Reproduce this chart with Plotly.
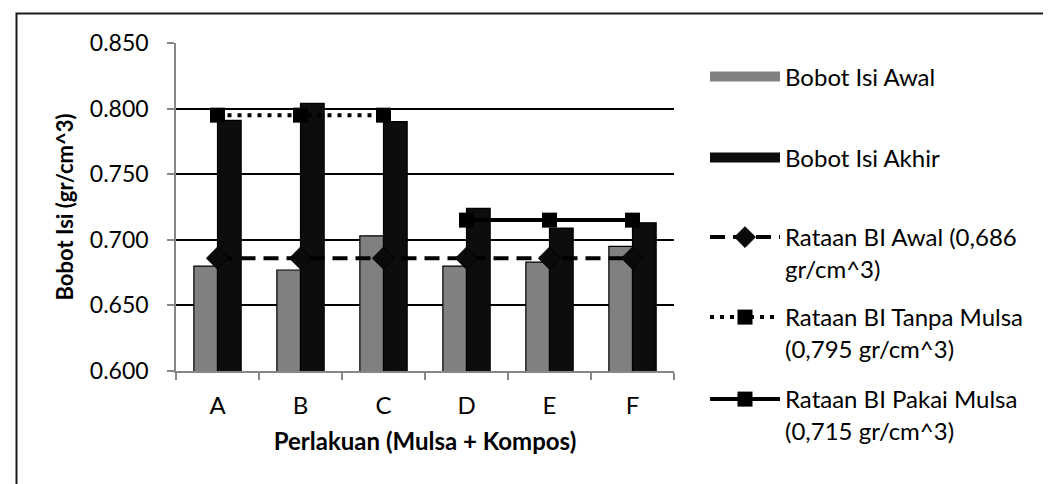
import plotly.graph_objects as go

categories = ["A", "B", "C", "D", "E", "F"]
bobot_awal = [0.680, 0.677, 0.703, 0.680, 0.683, 0.695]
bobot_akhir = [0.791, 0.804, 0.790, 0.724, 0.709, 0.713]
rataan_awal = [0.686, 0.686, 0.686, 0.686, 0.686, 0.686]
tanpa_cats = ["A", "B", "C"]
rataan_tanpa = [0.795, 0.795, 0.795]
pakai_cats = ["D", "E", "F"]
rataan_pakai = [0.715, 0.715, 0.715]

FONT = "Lato"
L, R, T, B = 168, 385, 35, 121
W, H = 1051, 484
PW, PH = W - L - R, H - T - B


def px_x(x):
    return (x - L) / PW


def px_y(y):
    return (H - B - y) / PH


fig = go.Figure()
fig.add_trace(go.Bar(
    x=categories, y=bobot_awal, name="Bobot Isi Awal",
    marker=dict(color="#808080", line=dict(color="#000000", width=1.2)),
    legendgroup="awal", showlegend=False,
))
fig.add_trace(go.Bar(
    x=categories, y=bobot_akhir, name="Bobot Isi Akhir",
    marker=dict(color="#0d0d0d", line=dict(color="#000000", width=1.2)),
    legendgroup="akhir", showlegend=False,
))
# legend proxies for the bar series (wide rectangular swatches)
fig.add_trace(go.Scatter(
    x=[None], y=[None], mode="lines", name="Bobot Isi Awal",
    line=dict(color="#808080", width=14), legendgroup="awal", legend="legend",
))
fig.add_trace(go.Scatter(
    x=[None], y=[None], mode="lines", name="Bobot Isi Akhir",
    line=dict(color="#0d0d0d", width=14), legendgroup="akhir", legend="legend2",
))
fig.add_trace(go.Scatter(
    x=categories, y=rataan_awal, name="Rataan BI Awal (0,686<br>gr/cm^3)",
    mode="lines+markers",
    line=dict(color="#000000", width=4, dash="15px,8px"),
    marker=dict(symbol="diamond", size=17, color="#0a0a0a", line=dict(color="#000000", width=1)),
    legend="legend3",
))
fig.add_trace(go.Scatter(
    x=tanpa_cats, y=rataan_tanpa, name="Rataan BI Tanpa Mulsa<br>(0,795 gr/cm^3)",
    mode="lines+markers",
    line=dict(color="#000000", width=4, dash="4px,6px"),
    marker=dict(symbol="square", size=15, color="#000000"),
    legend="legend4",
))
fig.add_trace(go.Scatter(
    x=pakai_cats, y=rataan_pakai, name="Rataan BI Pakai Mulsa<br>(0,715 gr/cm^3)",
    mode="lines+markers",
    line=dict(color="#000000", width=4),
    marker=dict(symbol="square", size=15, color="#000000"),
    legend="legend5",
))

leg_common = dict(
    xanchor="left", yanchor="middle", valign="top",
    font=dict(family=FONT, size=24, color="#000000"),
    bgcolor="rgba(0,0,0,0)", itemwidth=70, tracegroupgap=0,
    itemclick="toggle",
)
leg_x = px_x(697)

fig.update_layout(
    width=W, height=H,
    margin=dict(l=L, r=R, t=T, b=B, autoexpand=False),
    paper_bgcolor="white", plot_bgcolor="white",
    barmode="group", bargap=0.43, bargroupgap=0.0,
    font=dict(family=FONT, size=23, color="#000000"),
    showlegend=True,
    legend=dict(x=leg_x, y=px_y(69), **leg_common),
    legend2=dict(x=leg_x, y=px_y(150), **leg_common),
    legend3=dict(x=leg_x, y=px_y(245), **leg_common),
    legend4=dict(x=leg_x, y=px_y(325), **leg_common),
    legend5=dict(x=leg_x, y=px_y(407), **leg_common),
    xaxis=dict(
        type="category", showgrid=False,
        showline=True, linecolor="#868686", linewidth=1.5,
        ticks="outside", tickson="boundaries", ticklen=7, tickcolor="#868686", tickwidth=1.5,
        tickfont=dict(family=FONT, size=24), ticklabelstandoff=12,
        title=dict(text="<b>Perlakuan (Mulsa + Kompos)</b>", font=dict(family=FONT, size=24), standoff=16),
    ),
    yaxis=dict(
        range=[0.600, 0.850], dtick=0.05, tickformat=".3f",
        showgrid=True, gridcolor="#000000", gridwidth=1.5,
        showline=True, linecolor="#868686", linewidth=1.5,
        ticks="outside", ticklen=7, tickcolor="#868686", tickwidth=1.5,
        tickfont=dict(family=FONT, size=23), ticklabelstandoff=14,
        zeroline=False,
        title=dict(text="<b>Bobot Isi (gr/cm^3)</b>", font=dict(family=FONT, size=22), standoff=10),
    ),
    shapes=[dict(
        type="rect", xref="paper", yref="paper",
        x0=px_x(8.5), x1=px_x(1200), y0=px_y(700), y1=px_y(5.5),
        line=dict(color="#1a1a1a", width=2), fillcolor="rgba(0,0,0,0)", layer="below",
    )],
)

fig.write_html("out.html")
